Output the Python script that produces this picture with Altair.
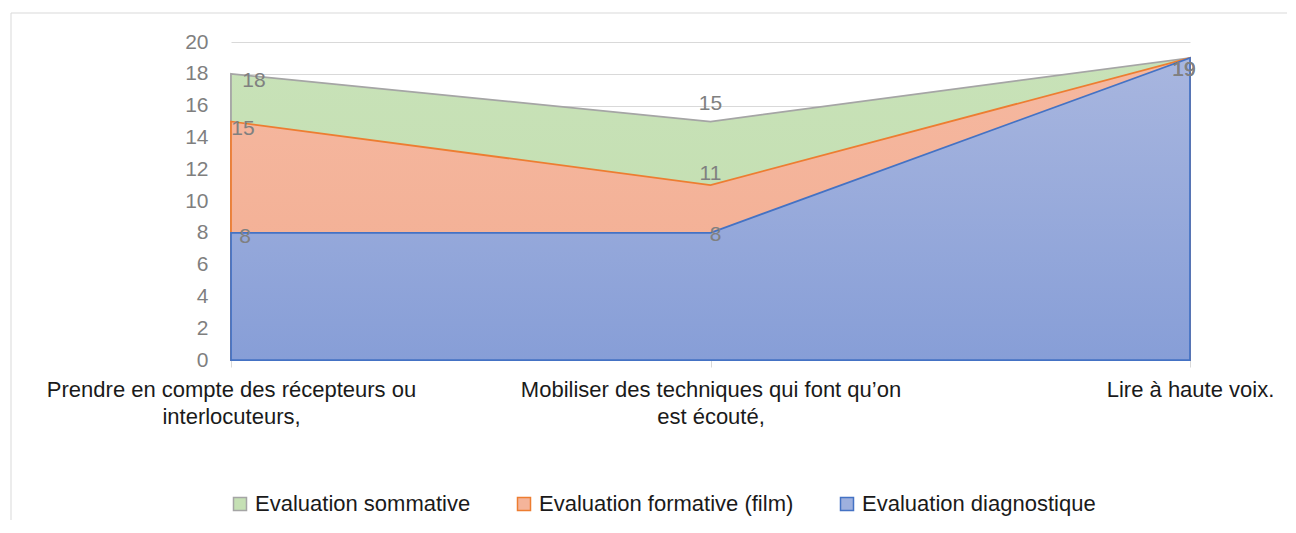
import altair as alt
import pandas as pd

categories = [
    "Prendre en compte des récepteurs ou|interlocuteurs,",
    "Mobiliser des techniques qui font qu’on|est écouté,",
    "Lire à haute voix.",
]
series_names = ["Evaluation sommative", "Evaluation formative (film)", "Evaluation diagnostique"]
sommative = [18, 15, 19]
formative = [15, 11, 19]
diagnostique = [8, 8, 19]
values_by_series = [sommative, formative, diagnostique]

rows = []
for s, vals in zip(series_names, values_by_series):
    for c, v in zip(categories, vals):
        rows.append({"series": s, "cat": c, "value": v})
df = pd.DataFrame(rows)

legend_fill = ["#c5e0b4", "#f4b49a", "#9eb0de"]
stroke_cols = ["#a5a5a5", "#ed7d31", "#4472c4"]
grad_stops = [("#c8e2b8", "#c2ddae"), ("#f5b8a0", "#f3ad91"), ("#a8b6df", "#879ed7")]

FONT = "Liberation Sans"
W, H = 959, 318

x_enc = alt.X("cat:N", sort=categories,
              scale=alt.Scale(type="point", padding=0),
              axis=alt.Axis(title=None, labelAngle=0, labelExpr="split(datum.label, '|')",
                            labelFontSize=22, labelColor="#1a1a1a", labelLineHeight=27,
                            labelPadding=12, tickSize=7, tickColor="#d9d9d9",
                            domainColor="#d9d9d9", grid=False, labelOverlap=False,
                            labelBound=False, labelFont=FONT, labelLimit=1000))
y_enc = alt.Y("value:Q", stack=None,
              scale=alt.Scale(domain=[0, 20], nice=False),
              axis=alt.Axis(title=None, values=list(range(0, 21, 2)), domain=False, ticks=False,
                            gridColor="#d9d9d9", labelFontSize=21, labelColor="#7f7f7f",
                            labelPadding=23, labelFont=FONT))

legend_def = alt.Legend(title=None, orient="none", direction="horizontal",
                        legendX=-2, legendY=451, symbolType="square",
                        symbolSize=169, symbolStrokeWidth=1.5,
                        labelFontSize=22, labelFont=FONT, labelColor="#1a1a1a",
                        labelOffset=4, columnPadding=42, padding=0,
                        labelLimit=1000)

base = alt.Chart(df)

legend_layer = base.mark_area(strokeWidth=1.5).encode(
    x=x_enc, y=y_enc,
    fill=alt.Fill("series:N", sort=series_names,
                  scale=alt.Scale(domain=series_names, range=legend_fill),
                  legend=legend_def),
    stroke=alt.Stroke("series:N", sort=series_names,
                      scale=alt.Scale(domain=series_names, range=stroke_cols),
                      legend=legend_def),
    order=alt.Order("value:Q", sort="descending"),
)

layers = [legend_layer]
for s, (top, bot), sc in zip(series_names, grad_stops, stroke_cols):
    grad = alt.Gradient(gradient="linear",
                        stops=[alt.GradientStop(color=top, offset=0),
                               alt.GradientStop(color=bot, offset=1)],
                        x1=1, x2=1, y1=0, y2=1)
    layers.append(
        base.transform_filter(alt.datum.series == s)
        .mark_area(fill=grad, stroke=sc, strokeWidth=1.75, opacity=1)
        .encode(x=x_enc, y=y_enc)
    )

# data label offsets (style: pixel nudges, as placed by the original chart)
label_offsets = {
    ("Evaluation sommative", 0): (23, 7), ("Evaluation formative (film)", 0): (12, 7),
    ("Evaluation diagnostique", 0): (14, 4),
    ("Evaluation sommative", 1): (0, -18), ("Evaluation formative (film)", 1): (0, -11),
    ("Evaluation diagnostique", 1): (5, 2),
    ("Evaluation sommative", 2): (-6, 12), ("Evaluation formative (film)", 2): (-6, 12),
    ("Evaluation diagnostique", 2): (-6, 12),
}
for (s, ci), (dx, dy) in label_offsets.items():
    c = categories[ci]
    layers.append(
        base.transform_filter((alt.datum.series == s) & (alt.datum.cat == c))
        .mark_text(dx=dx, dy=dy, fontSize=21, font=FONT, color="#808080")
        .encode(x=x_enc, y=y_enc, text=alt.Text("value:Q"))
    )

frame = alt.Chart(pd.DataFrame({"a": [0]}))
border_top = frame.mark_rule(color="#d9d9d9", strokeWidth=1).encode(
    x=alt.value(-220), x2=alt.value(1056), y=alt.value(-29))
border_left = frame.mark_rule(color="#d9d9d9", strokeWidth=1).encode(
    x=alt.value(-220), y=alt.value(-29), y2=alt.value(478))
layers += [border_top, border_left]

chart = alt.layer(*layers).properties(
    width=W, height=H,
    padding={"left": 2, "top": 4, "right": 0, "bottom": 0},
).configure(font=FONT).configure_view(stroke=None)

chart.save("out.html", embed_options={"renderer": "svg", "actions": False})
